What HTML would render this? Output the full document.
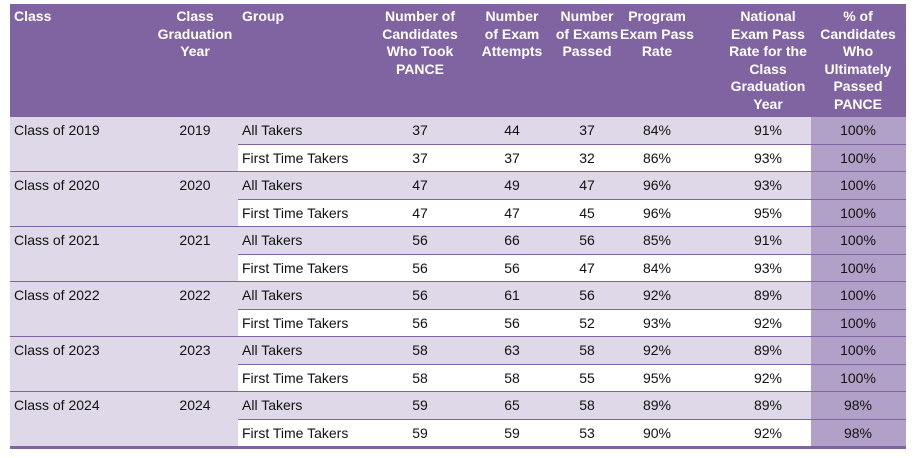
<!DOCTYPE html>
<html><head><meta charset="utf-8">
<style>
body{margin:0;width:914px;height:458px;background:#fff;position:relative;overflow:hidden;font-family:"Liberation Sans",Arial,sans-serif;}
.a{position:absolute;}
.h{color:#fff;font-weight:bold;font-size:14px;line-height:17.5px;text-align:center;top:8px;}
.c{font-size:14px;color:#111;line-height:27.5px;}
</style></head><body>
<div id="root"></div>
<script>
const classes=["Class of 2019","Class of 2020","Class of 2021","Class of 2022","Class of 2023","Class of 2024"];
const years=["2019","2020","2021","2022","2023","2024"];
const groups=["All Takers","First Time Takers"];
const candidates=[[37,37],[47,47],[56,56],[56,56],[58,58],[59,59]];
const attempts=[[44,37],[49,47],[66,56],[61,56],[63,58],[65,59]];
const passed=[[37,32],[47,45],[56,47],[56,52],[58,55],[58,53]];
const programRate=[["84%","86%"],["96%","96%"],["85%","84%"],["92%","93%"],["92%","95%"],["89%","90%"]];
const nationalRate=[["91%","93%"],["93%","95%"],["91%","93%"],["89%","92%"],["89%","92%"],["89%","92%"]];
const ultimate=[["100%","100%"],["100%","100%"],["100%","100%"],["100%","100%"],["100%","100%"],["98%","98%"]];
const headers=["Class","Class<br>Graduation<br>Year","Group","Number of<br>Candidates<br>Who Took<br>PANCE","Number<br>of Exam<br>Attempts","Number<br>of Exams<br>Passed","Program<br>Exam Pass<br>Rate","National<br>Exam Pass<br>Rate for the<br>Class<br>Graduation<br>Year","% of<br>Candidates<br>Who<br>Ultimately<br>Passed<br>PANCE"];
const L=10,R=906,HT=4,HB=117,RH=27.5,PX=811,GX=238;
const root=document.getElementById('root');
function div(cls,st,html,name){const d=document.createElement('div');d.className='a '+cls;d.style.cssText=st;if(html!==undefined)d.innerHTML=html;


root.appendChild(d);return d;}
div('',`left:${L}px;top:${HT}px;width:${R-L}px;height:${HB-HT}px;background:#8064a2;`,'','header-row');
const hc=[[14,null],[195,null],[242,null],[420,null],[512,null],[587,null],[657,null],[768,null],[858,null]];
headers.forEach((h,i)=>{
 if(i==0||i==2) div('h',`left:${hc[i][0]}px;text-align:left;`,h,'header-cell');
 else div('h',`left:${hc[i][0]-60}px;width:120px;`,h,'header-cell');
});
const cx=[420,512,587,657,768,858];
classes.forEach((c,k)=>{
 const y0=HB+k*2*RH;
 div('',`left:${L}px;top:${y0}px;width:${PX-L}px;height:${2*RH}px;background:#dfd8e8;`,'','class-block-bg');
 div('',`left:${GX}px;top:${y0+RH}px;width:${PX-GX}px;height:${RH}px;background:#fff;`,'','first-time-row-bg');
 div('',`left:${PX}px;top:${y0}px;width:${R-PX}px;height:${2*RH}px;background:#b1a0c7;`,'','ultimate-col-bg');
 div('',`left:${GX}px;top:${y0+RH-1}px;width:${R-GX}px;height:1.5px;background:#8064a2;`,'','row-separator');
 div('',`left:${L}px;top:${y0+2*RH-1}px;width:${R-L}px;height:${k==5?2.5:1.5}px;background:#8064a2;`,'','class-separator');
 div('c',`left:14px;top:${y0}px;`,c,'class-label');
 div('c',`left:165px;width:60px;text-align:center;top:${y0}px;`,years[k],'graduation-year');
 for(let g=0;g<2;g++){
  const y=y0+g*RH;
  div('c',`left:242px;top:${y}px;`,groups[g],'group-label');
  const vals=[candidates[k][g],attempts[k][g],passed[k][g],programRate[k][g],nationalRate[k][g],ultimate[k][g]];
  vals.forEach((v,j)=>div('c',`left:${cx[j]-40}px;width:80px;text-align:center;top:${y}px;`,v,'value-cell'));
 }
});
</script>
</body></html>
